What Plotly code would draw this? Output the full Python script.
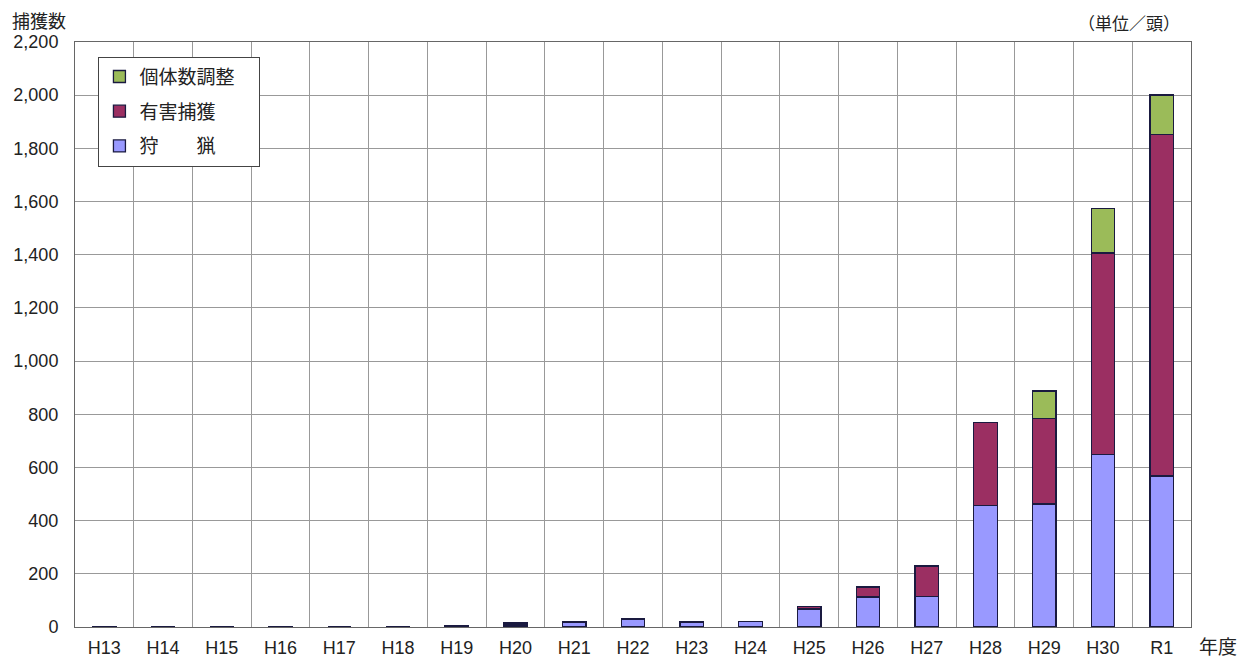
import plotly.graph_objects as go

years = ["H13", "H14", "H15", "H16", "H17", "H18", "H19", "H20", "H21", "H22",
         "H23", "H24", "H25", "H26", "H27", "H28", "H29", "H30", "R1"]
hunting = [2, 0, 0, 2, 0, 2, 6, 8, 19, 30, 19, 22, 68, 113, 116, 456, 463, 648, 568]
nuisance = [0, 0, 0, 0, 0, 0, 0, 7, 0, 0, 0, 0, 8, 38, 113, 312, 320, 758, 1283]
population = [0, 0, 0, 0, 0, 0, 0, 0, 0, 0, 0, 0, 0, 0, 0, 0, 105, 168, 150]

FONT = "Noto Sans CJK JP"
TICKFONT = "Liberation Sans, Arial, sans-serif"
LINE = dict(color="#1a1a40", width=1.3)

fig = go.Figure()
fig.add_trace(go.Bar(x=years, y=hunting, name="狩　　猟", legendrank=3,
                     legendgroup="c",
                     marker=dict(color="#9999FF", line=LINE)))
fig.add_trace(go.Bar(x=years, y=nuisance, name="有害捕獲", legendrank=2,
                     legendgroup="b",
                     marker=dict(color="#9B2F62", line=LINE)))
fig.add_trace(go.Bar(x=years, y=population, name="個体数調整　", legendrank=1,
                     legendgroup="a",
                     marker=dict(color="#9BBB59", line=LINE)))

fig.update_layout(
    barmode="stack",
    bargap=0.6,
    width=1243, height=651,
    margin=dict(l=67, r=60, t=34, b=32),
    paper_bgcolor="white", plot_bgcolor="white",
    font=dict(family=FONT, size=15, color="#222222"),
    showlegend=True,
    legend=dict(x=0.021, y=0.975, xanchor="left", yanchor="top",
                traceorder="grouped", bgcolor="white",
                bordercolor="#444444", borderwidth=1, tracegroupgap=7,
                font=dict(size=19, family=FONT), itemwidth=30),
    xaxis=dict(type="category", tickson="boundaries", showgrid=True,
               gridcolor="#999999", gridwidth=1, showline=True,
               linecolor="#666666", mirror=True, ticks="", automargin=False,
               ticklabelstandoff=4,
               tickfont=dict(size=18, family=TICKFONT)),
    yaxis=dict(range=[0, 2200], dtick=200, tickformat=",", showgrid=True,
               gridcolor="#999999", gridwidth=1, showline=True,
               linecolor="#666666", mirror=True, ticks="", automargin=False,
               ticklabelstandoff=12,
               tickfont=dict(size=18, family=TICKFONT), zeroline=False),
)

fig.add_annotation(text="捕獲数", xref="paper", yref="paper", x=-0.058, y=1.012,
                   xanchor="left", yanchor="bottom", showarrow=False,
                   font=dict(size=18, family=FONT))
fig.add_annotation(text="（単位／頭）", xref="paper", yref="paper", x=0.992, y=1.008,
                   xanchor="right", yanchor="bottom", showarrow=False,
                   font=dict(size=17, family=FONT))
fig.add_annotation(text="年度", xref="paper", yref="paper", x=1.005, y=-0.031,
                   xanchor="left", yanchor="middle", showarrow=False,
                   font=dict(size=19, family=FONT))

fig.write_html("out.html")
